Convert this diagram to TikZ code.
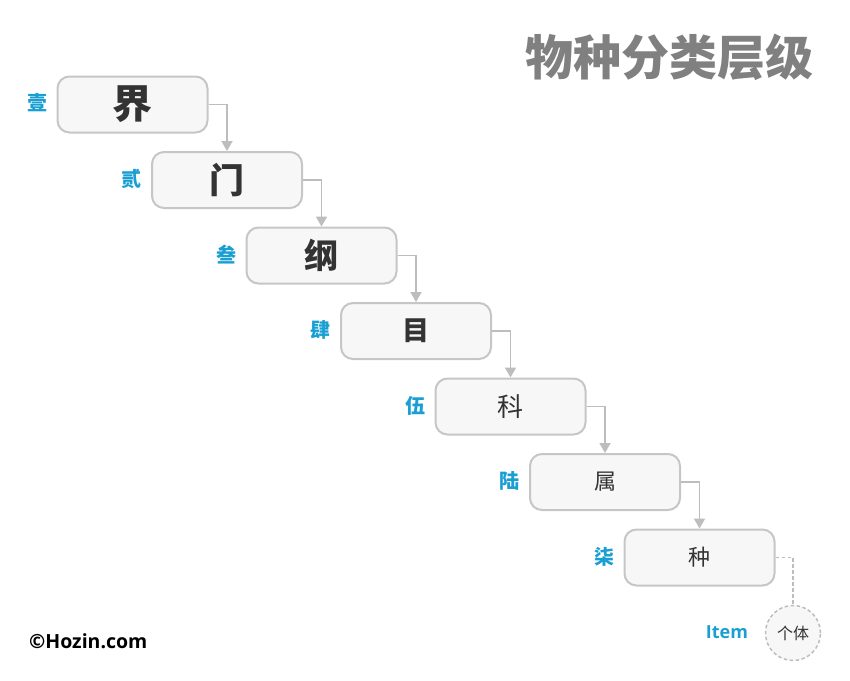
\documentclass[tikz,border=0pt]{standalone}
\usepackage{fontspec}
\setmainfont{Noto Sans CJK SC}
\newfontfamily\latinf{Open Sans}
\usetikzlibrary{arrows.meta}
\definecolor{lblue}{HTML}{1A9FD2}
\definecolor{bord}{HTML}{C6C6C6}
\definecolor{boxfill}{HTML}{F7F7F7}
\definecolor{lnk}{HTML}{BDBDBD}
\definecolor{ttl}{HTML}{808080}
\definecolor{txt}{HTML}{333333}
\tikzset{
  rank/.style={draw=bord, line width=2pt, fill=boxfill, rounded corners=12pt,
    minimum width=150pt, minimum height=56pt, inner sep=0pt, text=txt},
  lbl/.style={text=lblue, font=\fontsize{20}{20}\selectfont\bfseries, inner sep=0pt},
  arr/.style={draw=lnk, line width=1.8pt, -{Triangle[width=11pt,length=10pt]}},
  dash link/.style={draw=lnk, line width=1.5pt, dash pattern=on 3.5pt off 2.5pt},
  indiv/.style={circle, draw=lnk, line width=1.5pt, dash pattern=on 3.5pt off 2.5pt,
    fill=boxfill, minimum size=55pt, inner sep=0pt, text=txt}
}
\begin{document}
\begin{tikzpicture}[x=1pt,y=-1pt]
\useasboundingbox (0,0) rectangle (850,680);
\node[anchor=east, text=ttl, font=\fontsize{48}{48}\selectfont\bfseries, inner sep=0pt] (title) at (814,57) {物种分类层级};
\node[rank, font=\fontsize{40}{40}\selectfont\bfseries] (b0) at (132.5,104.5) {界};
\node[rank, font=\fontsize{35}{35}\selectfont\bfseries] (b1) at (227,180) {门};
\node[rank, font=\fontsize{34}{34}\selectfont\bfseries] (b2) at (321.5,255.5) {纲};
\node[rank, font=\fontsize{27}{27}\selectfont\bfseries] (b3) at (416,331) {目};
\node[rank, font=\fontsize{26}{26}\selectfont] (b4) at (510.5,406.5) {科};
\node[rank, font=\fontsize{22}{22}\selectfont] (b5) at (605,482) {属};
\node[rank, font=\fontsize{22}{22}\selectfont] (b6) at (699.5,557.5) {种};
\node[lbl] (l0) at (37,103) {壹};
\node[lbl] (l1) at (131.5,179) {贰};
\node[lbl] (l2) at (226,255) {叁};
\node[lbl] (l3) at (320.5,330) {肆};
\node[lbl] (l4) at (415,405.5) {伍};
\node[lbl] (l5) at (509.5,481) {陆};
\node[lbl] (l6) at (604,557) {柒};
\draw[arr] (b0.east) -| (b1.north);
\draw[arr] (b1.east) -| (b2.north);
\draw[arr] (b2.east) -| (b3.north);
\draw[arr] (b3.east) -| (b4.north);
\draw[arr] (b4.east) -| (b5.north);
\draw[arr] (b5.east) -| (b6.north);
\node[indiv, font=\fontsize{16}{16}\selectfont] (c) at (793,633) {个体};
\draw[dash link] (b6.east) -| (c.north);
\node[text=lblue, font=\latinf\fontsize{18}{18}\selectfont\bfseries, inner sep=0pt] (item) at (727,632) {Item};
\node[anchor=west, text=black, font=\latinf\fontsize{19.5}{19.5}\selectfont\bfseries, inner sep=0pt] (copy) at (29,641) {©Hozin.com};
\end{tikzpicture}
\end{document}
